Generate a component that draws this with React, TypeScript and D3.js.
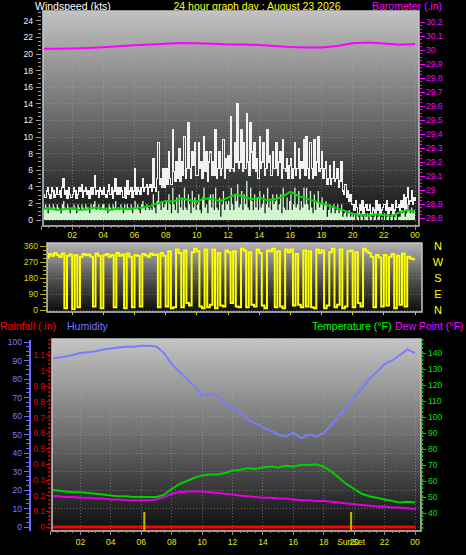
import React from "react";
import * as d3 from "d3";

// ---------- DATA ----------
const hourLabels = ["02", "04", "06", "08", "10", "12", "14", "16", "18", "20", "22", "00"];
const hourTicks = [2, 4, 6, 8, 10, 12, 14, 16, 18, 20, 22, 24];

// wind gust (kts), 5-minute samples from 00:00 (one row per hour)
const gust = [
  3.5, 3.9, 3.1, 2.7, 3.5, 3.9, 3.1, 2.6, 3.9, 3.5, 2.7, 3.1,
  3.9, 3.1, 3.5, 2.7, 3.9, 5.0, 3.1, 3.5, 2.6, 3.9, 3.1, 2.7,
  3.1, 3.9, 3.5, 2.6, 3.1, 3.9, 3.5, 4.3, 2.7, 3.5, 3.9, 3.1,
  3.5, 2.6, 3.9, 3.1, 3.9, 5.4, 3.1, 3.5, 2.7, 3.9, 3.5, 3.1,
  3.9, 3.1, 2.7, 3.5, 4.3, 3.1, 3.9, 2.6, 3.5, 5.0, 3.1, 3.9,
  3.1, 3.9, 3.5, 2.7, 3.9, 2.6, 4.7, 3.1, 3.5, 3.9, 2.7, 3.5,
  6.2, 3.1, 3.9, 3.5, 3.1, 3.9, 5.0, 3.5, 3.9, 4.3, 3.1, 3.9,
  4.3, 3.5, 7.4, 3.9, 3.5, 5.0, 9.3, 4.3, 5.0, 3.9, 6.2, 3.9,
  6.2, 4.3, 8.2, 5.0, 4.3, 10.9, 5.8, 4.7, 7.0, 5.0, 8.6, 4.7,
  7.0, 5.4, 10.1, 5.0, 6.2, 11.7, 6.2, 5.0, 8.2, 6.6, 9.3, 5.4,
  5.4, 9.3, 6.2, 7.0, 5.0, 10.1, 5.8, 8.2, 4.7, 7.0, 8.2, 5.4,
  7.0, 5.4, 10.9, 5.0, 6.2, 8.2, 5.4, 6.2, 9.7, 5.0, 7.4, 6.2,
  7.8, 5.8, 12.4, 6.2, 5.8, 9.3, 7.0, 14.0, 6.2, 7.0, 10.9, 5.8,
  9.3, 6.2, 12.8, 7.0, 5.4, 11.7, 8.2, 6.2, 9.3, 5.8, 7.4, 5.0,
  10.1, 6.2, 7.0, 9.3, 5.4, 6.2, 10.9, 7.0, 7.8, 5.4, 8.2, 6.2,
  6.2, 9.3, 5.4, 7.0, 8.2, 5.0, 9.7, 6.2, 5.8, 7.4, 5.0, 6.6,
  7.4, 5.0, 6.2, 9.3, 5.4, 6.2, 8.6, 5.0, 7.0, 6.2, 9.7, 5.4,
  10.1, 6.2, 5.0, 9.3, 6.2, 5.0, 9.7, 5.4, 7.0, 10.1, 5.8, 6.2,
  8.2, 5.0, 6.2, 7.0, 4.3, 5.0, 6.6, 4.3, 5.0, 7.0, 4.7, 5.0,
  6.2, 3.9, 4.7, 7.0, 3.5, 3.1, 4.3, 2.7, 3.5, 2.3, 3.1, 1.9,
  1.9, 1.2, 2.3, 1.5, 0.8, 1.9, 1.2, 2.3, 0.8, 1.5, 1.9, 1.2,
  1.2, 1.9, 0.8, 1.5, 1.2, 0.8, 2.3, 1.2, 1.9, 0.8, 1.2, 1.5,
  1.9, 1.2, 2.3, 0.8, 1.5, 1.2, 1.9, 0.8, 1.2, 2.3, 1.5, 1.9,
  1.2, 2.3, 1.5, 3.1, 1.2, 2.7, 3.9, 1.9, 2.3, 3.5, 1.9, 2.7,
  2.3,
];

// wind speed (kts), 5-minute samples
const speed = [
  1.5, 1.9, 1.2, 1.9, 1.5, 0.8, 1.9, 1.5, 1.2, 1.9, 1.5, 1.2,
  1.9, 1.5, 1.2, 0.8, 1.9, 2.3, 1.5, 1.2, 1.9, 1.5, 0.8, 1.5,
  1.2, 1.9, 1.5, 0.8, 1.9, 1.5, 1.2, 1.9, 1.5, 1.2, 1.9, 1.5,
  1.5, 0.8, 1.9, 1.5, 1.9, 2.3, 1.2, 1.5, 1.9, 1.2, 1.5, 1.9,
  1.9, 1.2, 1.5, 0.8, 1.9, 1.5, 1.2, 1.9, 1.5, 2.3, 1.2, 1.5,
  1.2, 1.9, 1.5, 0.8, 1.9, 1.2, 1.9, 1.5, 1.2, 1.9, 0.8, 1.5,
  2.3, 1.5, 1.9, 1.2, 0.8, 1.9, 2.3, 1.5, 1.2, 1.9, 1.5, 1.2,
  1.5, 1.2, 3.1, 1.5, 0.8, 2.3, 3.5, 1.9, 1.2, 2.3, 1.5, 1.9,
  2.3, 1.2, 3.1, 1.9, 0.8, 3.9, 1.9, 1.2, 2.7, 0.8, 3.1, 1.5,
  2.7, 1.2, 3.9, 1.5, 1.2, 3.1, 1.9, 0.8, 3.5, 1.5, 2.7, 1.2,
  1.9, 3.1, 1.2, 0.8, 2.7, 3.9, 1.5, 1.9, 0.8, 2.7, 3.1, 1.5,
  3.1, 1.2, 3.9, 1.5, 1.2, 2.7, 0.4, 1.9, 3.5, 1.2, 2.3, 1.9,
  2.3, 1.2, 3.9, 1.9, 1.2, 3.1, 2.3, 4.3, 1.5, 1.9, 3.5, 1.2,
  3.1, 1.9, 4.7, 1.5, 1.2, 3.9, 2.3, 1.2, 3.1, 1.5, 2.7, 1.2,
  3.5, 1.5, 1.9, 3.1, 0.8, 1.9, 3.9, 1.5, 2.3, 1.2, 3.1, 1.9,
  2.3, 3.1, 1.2, 1.9, 3.1, 0.8, 3.9, 1.5, 1.2, 2.7, 1.2, 2.3,
  3.1, 1.2, 1.9, 3.9, 1.5, 1.9, 3.5, 1.2, 2.3, 1.5, 3.9, 1.9,
  3.9, 1.9, 1.2, 3.5, 1.5, 0.8, 3.1, 1.2, 2.3, 3.5, 1.5, 1.9,
  2.7, 1.2, 1.9, 2.3, 0.4, 1.2, 1.9, 0.8, 1.5, 1.9, 0.8, 1.2,
  1.9, 0.8, 1.2, 1.9, 0.4, 0.8, 1.2, 0.4, 0.8, 1.2, 0.4, 0.8,
  0.4, 0.8, 0.0, 0.8, 0.4, 0.0, 0.8, 0.4, 0.0, 0.8, 0.4, 0.8,
  0.0, 0.8, 0.4, 0.0, 0.4, 0.8, 0.0, 0.4, 0.8, 0.0, 0.4, 0.0,
  0.8, 0.0, 0.4, 0.8, 0.0, 0.4, 0.8, 0.0, 0.4, 0.8, 0.0, 0.4,
  0.4, 1.2, 0.8, 1.2, 0.4, 0.8, 1.9, 1.2, 0.8, 1.5, 0.8, 1.2,
  1.2,
];

// average wind (kts), half-hourly
const avgWind = [
  1.3, 1.4, 1.2, 1.3, 1.4, 1.2, 1.3, 1.5, 1.3, 1.2, 1.4, 1.3,
  1.4, 1.5, 1.7, 2.0, 2.3, 2.2, 2.6, 2.4, 2.2, 2.6, 2.5, 2.3,
  2.7, 3.1, 2.8, 2.5, 2.7, 2.4, 2.5, 2.8, 3.4, 2.9, 2.6, 2.3,
  2.0, 1.7, 1.4, 1.1, 0.8, 0.6, 0.5, 0.7, 0.6, 0.5, 0.9, 1.2,
  1.0,
];

// barometer (in), hourly
const baro = [
  30.01, 30.009, 30.011, 30.014, 30.019, 30.026, 30.034, 30.04, 30.045, 30.05,
  30.048, 30.044, 30.04, 30.04, 30.035, 30.028, 30.021, 30.018, 30.017, 30.028,
  30.048, 30.054, 30.046, 30.037, 30.043,
];

// wind direction (deg), 10-minute samples
const direction = [
  300, 310, 295, 315, 305, 320, 310, 300, 318, 10, 305, 312,
  5, 308, 15, 300, 315, 308, 312, 300, 20, 318, 305, 10,
  308, 315, 300, 310, 15, 320, 305, 312, 10, 318, 300, 15,
  310, 305, 20, 315, 308, 300, 318, 310, 312, 15, 320, 305,
  20, 330, 10, 15, 340, 320, 15, 335, 40, 25, 325, 345,
  330, 20, 10, 340, 15, 30, 340, 10, 320, 25, 20, 335,
  325, 40, 330, 20, 15, 345, 335, 15, 325, 30, 20, 340,
  320, 25, 10, 335, 330, 345, 15, 330, 20, 10, 340, 325,
  340, 25, 315, 30, 15, 335, 20, 330, 15, 10, 340, 320,
  335, 10, 25, 325, 345, 15, 30, 340, 10, 20, 330, 335,
  15, 325, 40, 20, 345, 330, 320, 300, 15, 310, 295, 20,
  310, 25, 300, 315, 10, 305, 30, 318, 20, 300, 290, 285,
  285,
];

// humidity (%), half-hourly
const humidity = [
  91, 91.5, 92, 93, 94, 94.5, 95, 96, 96.5, 97, 97.5, 97.5,
  98, 98, 97.5, 94, 88, 84, 80, 76, 71, 72, 71, 67,
  64, 62, 58, 56, 54, 52, 50, 49, 51, 48, 50, 49,
  51, 55, 60, 65, 70, 75, 80, 84, 88, 90, 93, 96,
  94,
];

// temperature (F), half-hourly
const temperature = [
  54.5, 54, 53.5, 53, 53, 52.5, 52, 51.5, 51, 50.5, 50.5, 50,
  50, 50, 50, 51.5, 55, 58, 60, 62, 63.5, 64, 64, 65,
  66.5, 67, 68, 67.5, 68.5, 69, 68.5, 69.5, 69, 70, 70, 70.5,
  69, 66, 62, 58, 55, 52, 50.5, 49.5, 48.5, 47.5, 46.5, 47,
  46.5,
];

// dew point (F), half-hourly
const dewPoint = [
  50.5, 50.5, 50, 50, 49.5, 49.5, 49, 49, 48.5, 48.5, 48, 48,
  48, 48, 48.5, 50, 52, 53, 53.5, 53.5, 53.5, 53, 52.5, 52,
  51.5, 51, 50.5, 50, 49.5, 49.5, 49, 49, 48.5, 48, 48, 47.5,
  47.5, 47, 46.5, 46, 45.5, 45, 44.5, 44, 44, 43.5, 43.5, 43,
  42.5,
];

// rainfall (in), hourly
const rain = [0, 0, 0, 0, 0, 0, 0, 0, 0, 0, 0, 0, 0, 0, 0, 0, 0, 0, 0, 0, 0, 0, 0, 0, 0];

const sunrise = 6.2;
const sunset = 19.8;

const windTicks = d3.range(0, 25, 2);
const baroTicks = d3.range(0, 15).map((i) => +(28.8 + i * 0.1).toFixed(1));
const dirTicks = [0, 90, 180, 270, 360];
const compass = ["N", "E", "S", "W", "N"];
const humTicks = d3.range(0, 101, 10);
const rainTicks = d3.range(0, 12).map((i) => +(i * 0.1).toFixed(1));
const tempTicks = d3.range(40, 141, 10);

// ---------- CHART ----------
const FONT = "'Liberation Sans', Arial, sans-serif";

export default function App() {
  const xTop = d3.scaleLinear().domain([0, 24]).range([41, 415]);
  const yWind = d3.scaleLinear().domain([0, 25]).range([220, 12.5]);
  const yBaro = d3.scaleLinear().domain([28.8, 30.2]).range([218, 22]);
  const yDir = d3.scaleLinear().domain([0, 360]).range([310, 246]);
  const xBot = d3.scaleLinear().domain([0, 24]).range([50, 415]);
  const yHum = d3.scaleLinear().domain([0, 100]).range([527, 342]);
  const yRain = d3.scaleLinear().domain([0, 1.2]).range([527, 339.3]);
  const yTemp = d3.scaleLinear().domain([40, 140]).range([513, 353]);

  const top = { x: 43, y: 11, w: 376, h: 215 };
  const mid = { x: 47, y: 243, w: 375, h: 69 };
  const bot = { x: 52, y: 339, w: 369, h: 192 };

  const t5 = (i: number) => i / 12;
  const t10 = (i: number) => i / 6;
  const t30 = (i: number) => i / 2;

  const gustPath = d3.line<number>().x((d, i) => xTop(t5(i))).y((d) => yWind(d)).curve(d3.curveStepAfter)(gust) || "";
  const speedArea = d3.area<number>().x((d, i) => xTop(t5(i))).y0(yWind(0)).y1((d) => yWind(d)).curve(d3.curveStepAfter)(speed) || "";
  const avgPath = d3.line<number>().x((d, i) => xTop(t30(i))).y((d) => yWind(d))(avgWind) || "";
  const baroPath = d3.line<number>().x((d, i) => xTop(i)).y((d) => yBaro(d))(baro) || "";
  const dirPath = d3.line<number>().x((d, i) => xTop(t10(i))).y((d) => yDir(d)).curve(d3.curveStepAfter)(direction) || "";
  const humPath = d3.line<number>().x((d, i) => xBot(t30(i))).y((d) => yHum(d))(humidity) || "";
  const tempPath = d3.line<number>().x((d, i) => xBot(t30(i))).y((d) => yTemp(d))(temperature) || "";
  const dewPath = d3.line<number>().x((d, i) => xBot(t30(i))).y((d) => yTemp(d))(dewPoint) || "";
  const rainPath = d3.line<number>().x((d, i) => xBot(i)).y((d) => yRain(d))(rain) || "";

  const minorHours = d3.range(0, 24.01, 0.5);

  const grad = (id: string, c0: string, c1: string, c2: string) => (
    <linearGradient id={id} x1="0" y1="0" x2="0" y2="1">
      <stop offset="0" stopColor={c0} />
      <stop offset="0.5" stopColor={c1} />
      <stop offset="1" stopColor={c2} />
    </linearGradient>
  );

  return (
    <svg width={466} height={555} style={{ position: "absolute", left: 0, top: 0, display: "block", background: "#000" }} fontFamily={FONT}>
      <defs>
        {grad("gTop", "#c2c2c2", "#6a6a6a", "#0e0e0e")}
        {grad("gMid", "#b4b4b4", "#555555", "#0c0c0c")}
        {grad("gBot", "#c4c4c4", "#6e6e6e", "#0c0c0c")}
        <clipPath id="cTop"><rect x={top.x + 1} y={top.y + 1} width={top.w - 2} height={top.h - 2} /></clipPath>
        <clipPath id="cMid"><rect x={mid.x + 1} y={mid.y + 1} width={mid.w - 2} height={mid.h - 2} /></clipPath>
        <clipPath id="cBot"><rect x={bot.x + 1} y={bot.y + 1} width={bot.w - 2} height={bot.h - 2} /></clipPath>
      </defs>
      <rect x={0} y={0} width={466} height={555} fill="#000" />

      {/* ---------- titles ---------- */}
      <text x={35} y={9.5} fill="#ffffff" fontSize={10.5}>Windspeed (kts)</text>
      <text x={257} y={9.5} fill="#ffff00" fontSize={10.5} textAnchor="middle">24 hour graph day : August 23 2026</text>
      <text x={372} y={9.5} fill="#ff00ff" fontSize={10.5}>Barometer (.in)</text>

      {/* ---------- TOP PANEL ---------- */}
      <rect x={top.x} y={top.y} width={top.w} height={top.h} fill="url(#gTop)" />
      <g stroke="#b0b0b0" strokeOpacity={0.45} strokeDasharray="1,2" shapeRendering="crispEdges">
        {windTicks.map((v) => (
          <line key={"wg" + v} x1={top.x} x2={top.x + top.w} y1={yWind(v)} y2={yWind(v)} />
        ))}
        {hourTicks.map((h) => (
          <line key={"wv" + h} x1={xTop(h)} x2={xTop(h)} y1={top.y} y2={top.y + top.h} />
        ))}
      </g>
      <g clipPath="url(#cTop)">
        <path d={speedArea} fill="#d0f6d0" />
        <path d={gustPath} fill="none" stroke="#f2f2f2" strokeWidth={1.2} shapeRendering="crispEdges" />
        <path d={avgPath} fill="none" stroke="#00dd00" strokeWidth={2} />
        <path d={baroPath} fill="none" stroke="#ff00ff" strokeWidth={2} />
      </g>
      <rect x={top.x} y={top.y} width={top.w} height={top.h} fill="none" stroke="#c8c8c8" strokeWidth={1.5} />
      {/* left wind axis */}
      <g stroke="#9a9a9a" shapeRendering="crispEdges">
        {d3.range(0, 25.01, 0.5).map((v) => (
          <line key={"wt" + v} x1={v % 2 === 0 ? 36 : 38} x2={41} y1={yWind(v)} y2={yWind(v)} />
        ))}
      </g>
      {windTicks.map((v) => (
        <text key={"wl" + v} x={33} y={yWind(v) + 3} fill="#eef2ff" fontSize={8.5} textAnchor="end">{v}</text>
      ))}
      {/* right baro axis */}
      <g stroke="#ff00ff" shapeRendering="crispEdges">
        {d3.range(0, 57).map((i) => {
          const v = 28.8 + i * 0.025;
          return <line key={"bt" + i} x1={420} x2={i % 4 === 0 ? 425 : 422} y1={yBaro(v)} y2={yBaro(v)} />;
        })}
      </g>
      {baroTicks.map((v) => (
        <text key={"bl" + v} x={426} y={yBaro(v) + 3} fill="#ff00ff" fontSize={8.5}>{v}</text>
      ))}
      {/* top x axis */}
      <g stroke="#909090" shapeRendering="crispEdges">
        {minorHours.map((h) => (
          <line key={"xt" + h} x1={xTop(h)} x2={xTop(h)} y1={top.y + top.h} y2={top.y + top.h + (h % 2 === 0 ? 4 : 2)} />
        ))}
      </g>
      {hourTicks.map((h, i) => (
        <text key={"xl" + h} x={xTop(h)} y={238} fill="#e8e800" fontSize={8.5} textAnchor="middle">{hourLabels[i]}</text>
      ))}

      {/* ---------- MIDDLE PANEL ---------- */}
      <rect x={mid.x} y={mid.y} width={mid.w} height={mid.h} fill="url(#gMid)" />
      <g stroke="#b0b0b0" strokeOpacity={0.45} strokeDasharray="1,2" shapeRendering="crispEdges">
        {dirTicks.map((v) => (
          <line key={"dg" + v} x1={mid.x} x2={mid.x + mid.w} y1={yDir(v)} y2={yDir(v)} />
        ))}
      </g>
      <g clipPath="url(#cMid)">
        <path d={dirPath} fill="none" stroke="#ffff00" strokeWidth={2} />
      </g>
      <rect x={mid.x} y={mid.y} width={mid.w} height={mid.h} fill="none" stroke="#c8c8c8" strokeWidth={1.5} />
      <g stroke="#b8b800" shapeRendering="crispEdges">
        {d3.range(0, 361, 22.5).map((v) => (
          <line key={"dt" + v} x1={v % 90 === 0 ? 40 : 43} x2={46} y1={yDir(v)} y2={yDir(v)} />
        ))}
      </g>
      {dirTicks.map((v) => (
        <text key={"dl" + v} x={38} y={yDir(v) + 3} fill="#d8d800" fontSize={8.5} textAnchor="end">{v}</text>
      ))}
      {dirTicks.map((v, i) => (
        <text key={"cl" + v} x={438} y={yDir(v) + 4} fill="#ffff00" fontSize={11} textAnchor="middle">{compass[i]}</text>
      ))}
      <g stroke="#d8d800" shapeRendering="crispEdges">
        {hourTicks.map((h) => (
          <line key={"mt" + h} x1={xTop(h)} x2={xTop(h)} y1={mid.y + mid.h} y2={mid.y + mid.h + 3} />
        ))}
      </g>

      {/* ---------- BOTTOM PANEL ---------- */}
      <text x={0} y={330} fill="#ff0000" fontSize={10.5}>Rainfall (.in)</text>
      <text x={67} y={330} fill="#7777ff" fontSize={10.5}>Humidity</text>
      <text x={312} y={330} fill="#00ff00" fontSize={10.5}>Temperature (°F)</text>
      <text x={395} y={330} fill="#ff00ff" fontSize={10.5}>Dew Point (°F)</text>

      <rect x={bot.x} y={bot.y} width={bot.w} height={bot.h} fill="url(#gBot)" />
      <g stroke="#b0b0b0" strokeOpacity={0.45} strokeDasharray="1,2" shapeRendering="crispEdges">
        {humTicks.map((v) => (
          <line key={"hg" + v} x1={bot.x} x2={bot.x + bot.w} y1={yHum(v)} y2={yHum(v)} />
        ))}
        {hourTicks.map((h) => (
          <line key={"bv" + h} x1={xBot(h)} x2={xBot(h)} y1={bot.y} y2={bot.y + bot.h} />
        ))}
      </g>
      <g clipPath="url(#cBot)">
        <path d={humPath} fill="none" stroke="#7b7bff" strokeWidth={2} />
        <path d={dewPath} fill="none" stroke="#e000e0" strokeWidth={2} />
        <path d={tempPath} fill="none" stroke="#00d000" strokeWidth={2} />
        <path d={rainPath} fill="none" stroke="#ff0000" strokeWidth={3} />
      </g>
      <rect x={bot.x} y={bot.y} width={bot.w} height={bot.h} fill="none" stroke="#c8c8c8" strokeWidth={1.5} />
      {[sunrise, sunset].map((h) => (
        <line key={"sun" + h} x1={xBot(h)} x2={xBot(h)} y1={512} y2={531} stroke="#c8b400" strokeWidth={2} />
      ))}
      {/* humidity axis */}
      <line x1={30} x2={30} y1={340} y2={531} stroke="#6b6bff" strokeWidth={2} />
      <g stroke="#6b6bff" shapeRendering="crispEdges">
        {d3.range(0, 100.01, 2.5).map((v) => (
          <line key={"ht" + v} x1={v % 10 === 0 ? 24 : 26} x2={29} y1={yHum(v)} y2={yHum(v)} />
        ))}
      </g>
      {humTicks.map((v) => (
        <text key={"hl" + v} x={22} y={yHum(v) + 3} fill="#7b7bff" fontSize={8.5} textAnchor="end">{v}</text>
      ))}
      {/* rain axis */}
      <line x1={49.5} x2={49.5} y1={339} y2={531} stroke="#e00000" strokeWidth={2} strokeDasharray="2,2" />
      <g stroke="#e00000" shapeRendering="crispEdges">
        {rainTicks.map((v) => (
          <line key={"rt" + v} x1={46} x2={50} y1={yRain(v)} y2={yRain(v)} />
        ))}
      </g>
      {rainTicks.map((v) => (
        <text key={"rl" + v} x={45} y={yRain(v) + 3} fill="#e00000" fontSize={8.5} textAnchor="end">{v}</text>
      ))}
      {/* temperature axis */}
      <line x1={422.5} x2={422.5} y1={339} y2={531} stroke="#00c000" strokeWidth={1.5} strokeDasharray="2,2" />
      <g stroke="#00d000" shapeRendering="crispEdges">
        {tempTicks.map((v) => (
          <line key={"tt" + v} x1={422} x2={426} y1={yTemp(v)} y2={yTemp(v)} />
        ))}
      </g>
      {tempTicks.map((v) => (
        <text key={"tl" + v} x={428} y={yTemp(v) + 3} fill="#00e000" fontSize={8.5}>{v}</text>
      ))}
      {/* bottom x axis */}
      <g stroke="#909090" shapeRendering="crispEdges">
        {minorHours.map((h) => (
          <line key={"bx" + h} x1={xBot(h)} x2={xBot(h)} y1={bot.y + bot.h} y2={bot.y + bot.h + (h % 2 === 0 ? 4 : 2)} />
        ))}
      </g>
      {hourTicks.map((h, i) => (
        <text key={"bl" + h} x={xBot(h)} y={545} fill="#e8e800" fontSize={8.5} textAnchor="middle">{hourLabels[i]}</text>
      ))}
      <text x={xBot(sunset)} y={545} fill="#e8e800" fontSize={8.5} textAnchor="middle">SunSet</text>
    </svg>
  );
}
